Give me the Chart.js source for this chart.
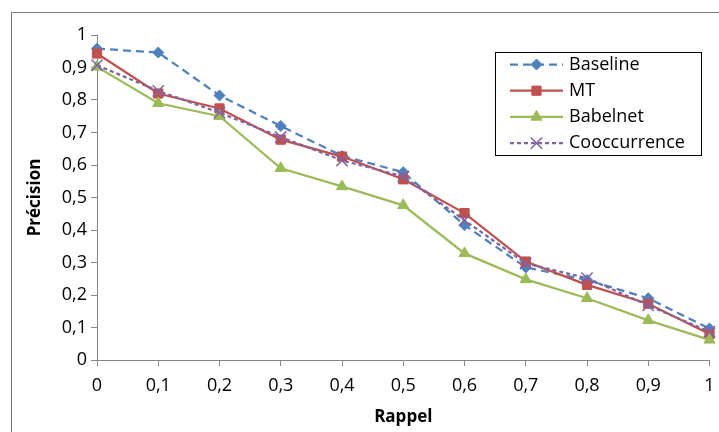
<!DOCTYPE html>
<html>
<head>
    <meta charset="UTF-8">
    <title>Précision / Rappel</title>
    <script src="https://cdn.jsdelivr.net/npm/chart.js"></script>
    <style>
        body { margin: 0; background: #ffffff; }
        canvas { display: block; }
    </style>
</head>
<body>
    <canvas id="myChart" width="719" height="432"></canvas>
    <script type="text/javascript">
        // Rappel (x axis) categories
        var rappel = ['0', '0,1', '0,2', '0,3', '0,4', '0,5', '0,6', '0,7', '0,8', '0,9', '1'];

        // Précision values
        var baseline = [0.958, 0.946, 0.814, 0.72, 0.628, 0.578, 0.415, 0.285, 0.246, 0.19, 0.097];
        var mt = [0.943, 0.82, 0.774, 0.678, 0.626, 0.556, 0.452, 0.303, 0.231, 0.173, 0.08];
        var babelnet = [0.902, 0.79, 0.75, 0.59, 0.534, 0.476, 0.328, 0.248, 0.19, 0.122, 0.062];
        var cooccurrence = [0.907, 0.828, 0.761, 0.686, 0.614, 0.565, 0.43, 0.297, 0.252, 0.168, 0.087];

        var seriesNames = ['Baseline', 'MT', 'Babelnet', 'Cooccurrence'];

        var fontName = "'Open Sans', 'DejaVu Sans', sans-serif";
        var axisGray = '#868686';

        function makeSeries(label, values, color, style, radius, dash, order) {
            return {
                label: label,
                data: values,
                borderColor: color,
                backgroundColor: color,
                borderWidth: 2.25,
                borderDash: dash,
                pointStyle: style,
                pointRadius: radius,
                pointHoverRadius: radius,
                pointBackgroundColor: color,
                pointBorderColor: color,
                pointBorderWidth: style == 'crossRot' ? 1.5 : 1,
                tension: 0,
                fill: false,
                order: order
            };
        }

        // white page + outer frame of the chart object
        var frame = {
            id: 'frame',
            beforeDraw: function (chart) {
                var ctx = chart.ctx;
                ctx.save();
                ctx.fillStyle = '#ffffff';
                ctx.fillRect(0, 0, chart.width, chart.height);
                ctx.strokeStyle = '#7a7a7a';
                ctx.lineWidth = 1;
                ctx.strokeRect(11.5, 12.5, 800, 500);
                ctx.restore();
            }
        };

        // boxed legend sitting inside the plot, like the Excel one
        var legendBox = {
            id: 'legendBox',
            afterDraw: function (chart) {
                var ctx = chart.ctx;
                ctx.save();
                ctx.fillStyle = '#ffffff';
                ctx.fillRect(495.5, 52.5, 206, 103);
                ctx.strokeStyle = '#000000';
                ctx.lineWidth = 1;
                ctx.strokeRect(495.5, 52.5, 206, 103);

                chart.data.datasets.forEach(function (ds, i) {
                    var y = 64.5 + i * 26.2;
                    ctx.strokeStyle = ds.borderColor;
                    ctx.lineWidth = ds.borderWidth;
                    ctx.setLineDash(ds.borderDash || []);
                    ctx.beginPath();
                    ctx.moveTo(510, y);
                    ctx.lineTo(563, y);
                    ctx.stroke();
                    ctx.setLineDash([]);

                    ctx.fillStyle = ds.pointBackgroundColor;
                    ctx.strokeStyle = ds.pointBorderColor;
                    ctx.lineWidth = ds.pointBorderWidth;
                    Chart.helpers.drawPoint(ctx, {
                        pointStyle: ds.pointStyle,
                        radius: ds.pointRadius,
                        borderWidth: ds.pointBorderWidth,
                        rotation: 0
                    }, 536.5, y);

                    ctx.fillStyle = '#000000';
                    ctx.font = '18px ' + fontName;
                    ctx.textAlign = 'left';
                    ctx.textBaseline = 'middle';
                    ctx.fillText(seriesNames[i], 569, y);
                });
                ctx.restore();
            }
        };

        new Chart('myChart', {
            type: 'line',
            data: {
                labels: rappel,
                datasets: [
                    makeSeries(seriesNames[0], baseline, '#4F81BD', 'rectRot', 5.5, [8, 5], 3),
                    makeSeries(seriesNames[1], mt, '#C0504D', 'rect', 6.5, [], 2),
                    makeSeries(seriesNames[2], babelnet, '#9BBB59', 'triangle', 6.5, [], 1),
                    makeSeries(seriesNames[3], cooccurrence, '#8064A2', 'crossRot', 8, [4, 3], 0)
                ]
            },
            options: {
                responsive: false,
                animation: false,
                layout: { padding: { left: 0, top: 35, right: 9, bottom: 0 } },
                plugins: {
                    legend: { display: false },
                    tooltip: { enabled: false }
                },
                scales: {
                    x: {
                        offset: false,
                        grid: { drawOnChartArea: false, drawTicks: true, tickLength: 6, color: axisGray },
                        border: { color: axisGray, width: 1 },
                        ticks: {
                            color: '#000000',
                            font: { family: fontName, size: 18 },
                            padding: 9,
                            maxRotation: 0,
                            autoSkip: false
                        },
                        title: {
                            display: true,
                            text: 'Rappel',
                            color: '#000000',
                            font: { family: fontName, size: 17, weight: 'bold' },
                            padding: { top: 0, bottom: 5 }
                        },
                        afterFit: function (scale) {
                            scale.height = 72;
                            scale.paddingLeft = 0;
                            scale.paddingRight = 0;
                        }
                    },
                    y: {
                        min: 0,
                        max: 1,
                        grid: { drawOnChartArea: false, drawTicks: true, tickLength: 6, color: axisGray },
                        border: { color: axisGray, width: 1 },
                        ticks: {
                            stepSize: 0.1,
                            color: '#000000',
                            font: { family: fontName, size: 18 },
                            padding: 4,
                            callback: function (value) {
                                return (Math.round(value * 10) / 10).toString().replace('.', ',');
                            }
                        },
                        title: {
                            display: true,
                            text: 'Précision',
                            color: '#000000',
                            font: { family: fontName, size: 17, weight: 'bold' },
                            padding: { top: 25, bottom: 0 }
                        },
                        afterFit: function (scale) { scale.width = 97; }
                    }
                }
            },
            plugins: [frame, legendBox]
        });
    </script>
</body>
</html>
